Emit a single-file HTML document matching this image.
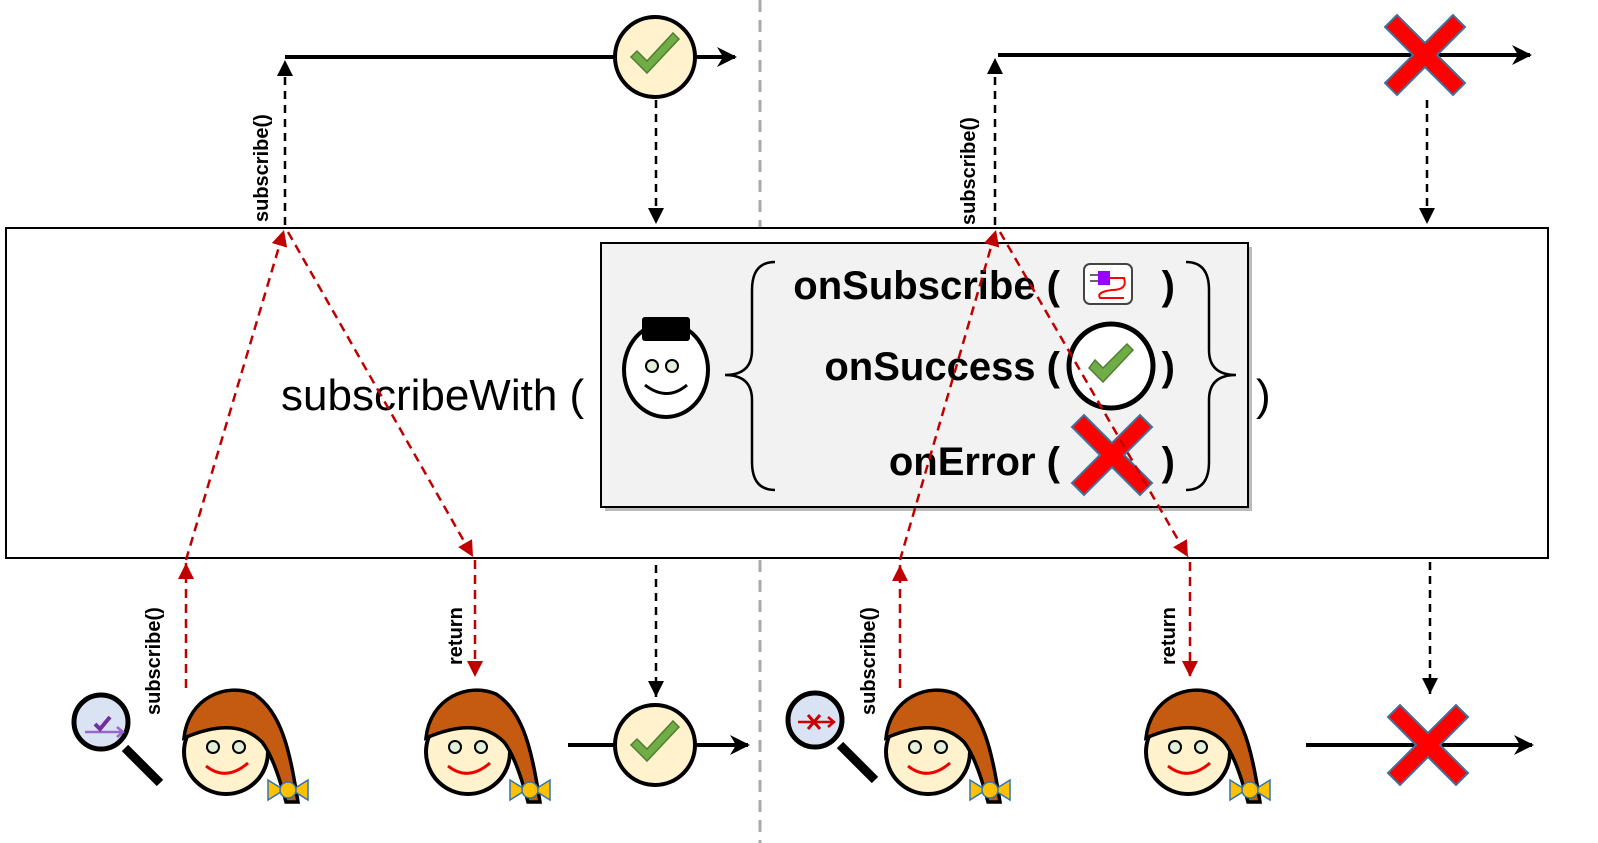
<!DOCTYPE html>
<html><head><meta charset="utf-8"><style>
html,body{margin:0;padding:0;background:#fff;}
svg{display:block;}
text{font-family:"Liberation Sans",sans-serif;}
</style></head><body>
<svg width="1598" height="843" viewBox="0 0 1598 843" xmlns="http://www.w3.org/2000/svg">
<defs>
<marker id="tb" viewBox="0 0 20 20" refX="18" refY="10" markerWidth="20" markerHeight="20" orient="auto" markerUnits="userSpaceOnUse"><path d="M0,0 L20,10 L0,20 L6,10Z" fill="#000"/></marker>
<marker id="db" viewBox="0 0 16 16" refX="16" refY="8" markerWidth="16" markerHeight="16" orient="auto" markerUnits="userSpaceOnUse"><path d="M0,0 L16,8 L0,16Z" fill="#000"/></marker>
<marker id="dr" viewBox="0 0 16 16" refX="16" refY="8" markerWidth="16" markerHeight="16" orient="auto" markerUnits="userSpaceOnUse"><path d="M0,0 L16,8 L0,16Z" fill="#c00000"/></marker>
<g id="girl">
<circle cx="0" cy="0" r="42" fill="#fff2cc" stroke="#000" stroke-width="4"/>
<path d="M-42,-14 C-38,-54 0,-70 28,-58 C56,-40 64,0 72,50 L60,50 C52,20 44,0 36,-10 C20,-26 -5,-30 -42,-14Z" fill="#c55a11" stroke="#000" stroke-width="3.5"/>
<circle cx="-13" cy="-5" r="6" fill="#e2efd9" stroke="#000" stroke-width="2"/>
<circle cx="13" cy="-5" r="6" fill="#e2efd9" stroke="#000" stroke-width="2"/>
<path d="M-20,14 Q0,30 22,11" fill="none" stroke="#e00" stroke-width="3"/>
<path d="M42,28 L58,38 L42,48Z M82,28 L66,38 L82,48Z" fill="#ffc000" stroke="#2e75b6" stroke-width="1.5"/>
<circle cx="62" cy="38" r="8" fill="#ffc000" stroke="#2e75b6" stroke-width="1.5"/>
</g>
<g id="chk">
<circle cx="0" cy="0" r="40" fill="#fff2cc" stroke="#000" stroke-width="4"/>
<path d="M-24,0 L-8,16 L24,-18 L18,-24 L-8,4 L-18,-6Z" fill="#70ad47" stroke="#507e32" stroke-width="1.5"/>
</g>
<g id="xx">
<path d="M-40,-28 L-28,-40 L0,-12 L28,-40 L40,-28 L12,0 L40,28 L28,40 L0,12 L-28,40 L-40,28 L-12,0Z" fill="#ff0000" stroke="#41719c" stroke-width="2"/>
</g>
</defs>

<line x1="760" y1="0" x2="760" y2="843" stroke="#aaa" stroke-width="3" stroke-dasharray="12,8"/>

<rect x="6" y="228" width="1542" height="330" fill="#fff" stroke="#000" stroke-width="2"/>
<rect x="605" y="247" width="647" height="264" fill="#bbb"/>
<rect x="601" y="243" width="647" height="264" fill="#f2f2f2" stroke="#000" stroke-width="2"/>

<text x="281" y="410" font-size="44">subscribeWith (</text>
<text x="1256" y="410" font-size="44">)</text>

<ellipse cx="666" cy="370" rx="42" ry="47" fill="#fff" stroke="#000" stroke-width="4"/>
<rect x="642" y="317" width="48" height="24" rx="3" fill="#000"/>
<circle cx="652" cy="366" r="6" fill="#e2efd9" stroke="#000" stroke-width="2"/>
<circle cx="672" cy="366" r="6" fill="#e2efd9" stroke="#000" stroke-width="2"/>
<path d="M645,385 Q667,402 687,385" fill="none" stroke="#000" stroke-width="3"/>

<path d="M775,262 Q752,262 752,290 L752,350 Q752,375 725,375 Q752,375 752,400 L752,462 Q752,490 775,490" fill="none" stroke="#000" stroke-width="2.5"/>
<path d="M1186,262 Q1209,262 1209,290 L1209,350 Q1209,375 1236,375 Q1209,375 1209,400 L1209,462 Q1209,490 1186,490" fill="none" stroke="#000" stroke-width="2.5"/>

<g font-weight="bold" font-size="40" text-anchor="end">
<text x="1060" y="299">onSubscribe (</text>
<text x="1060" y="380">onSuccess (</text>
<text x="1060" y="475">onError (</text>
<text x="1175" y="299">)</text>
<text x="1175" y="380">)</text>
<text x="1175" y="475">)</text>
</g>
<rect x="1084" y="264" width="48" height="40" rx="6" fill="#fff" stroke="#444" stroke-width="2"/>
<rect x="1098" y="271" width="12" height="14" fill="#9900ff"/>
<path d="M1090,275 L1098,275 M1090,281 L1098,281" stroke="#666" stroke-width="2"/>
<path d="M1110,278 L1124,278 Q1128,290 1112,290 Q1096,292 1100,298 L1124,298" fill="none" stroke="#f00" stroke-width="2"/>
<circle cx="1111" cy="366" r="42" fill="#fff" stroke="#000" stroke-width="5"/>
<path d="M1089,368 L1103,382 L1133,350 L1127,344 L1103,368 L1095,360Z" fill="#70ad47" stroke="#507e32" stroke-width="1.5"/>
<use href="#xx" x="1112" y="455"/>

<line x1="285" y1="57" x2="735" y2="57" stroke="#000" stroke-width="4" marker-end="url(#tb)"/>
<line x1="998" y1="55" x2="1530" y2="55" stroke="#000" stroke-width="4" marker-end="url(#tb)"/>
<use href="#chk" x="655" y="57"/>
<use href="#xx" x="1425" y="55"/>

<g stroke="#000" stroke-width="2.5" stroke-dasharray="8,6" fill="none">
<line x1="285" y1="225" x2="285" y2="60" marker-end="url(#db)"/>
<line x1="995" y1="225" x2="995" y2="58" marker-end="url(#db)"/>
<line x1="656" y1="100" x2="656" y2="224" marker-end="url(#db)"/>
<line x1="1427" y1="100" x2="1427" y2="224" marker-end="url(#db)"/>
<line x1="656" y1="565" x2="656" y2="697" marker-end="url(#db)"/>
<line x1="1430" y1="562" x2="1430" y2="694" marker-end="url(#db)"/>
</g>

<g stroke="#c00000" stroke-width="2.5" stroke-dasharray="9,6" fill="none">
<line x1="186" y1="560" x2="284" y2="230" marker-end="url(#dr)"/>
<line x1="186" y1="688" x2="186" y2="563" marker-end="url(#dr)"/>
<line x1="288" y1="232" x2="473" y2="557" marker-end="url(#dr)"/>
<line x1="475" y1="560" x2="475" y2="677" marker-end="url(#dr)"/>
<line x1="900" y1="560" x2="996" y2="230" marker-end="url(#dr)"/>
<line x1="900" y1="688" x2="900" y2="565" marker-end="url(#dr)"/>
<line x1="1000" y1="232" x2="1188" y2="557" marker-end="url(#dr)"/>
<line x1="1190" y1="562" x2="1190" y2="677" marker-end="url(#dr)"/>
</g>

<g font-weight="bold" font-size="20">
<text transform="translate(268,222) rotate(-90)">subscribe()</text>
<text transform="translate(975,225) rotate(-90)">subscribe()</text>
<text transform="translate(160,715) rotate(-90)">subscribe()</text>
<text transform="translate(875,715) rotate(-90)">subscribe()</text>
<text transform="translate(462,665) rotate(-90)">return</text>
<text transform="translate(1175,665) rotate(-90)">return</text>
</g>

<line x1="568" y1="745" x2="748" y2="745" stroke="#000" stroke-width="4" marker-end="url(#tb)"/>
<line x1="1306" y1="745" x2="1532" y2="745" stroke="#000" stroke-width="4" marker-end="url(#tb)"/>
<use href="#chk" x="655" y="745"/>
<use href="#xx" x="1428" y="745"/>

<use href="#girl" x="226" y="752"/>
<use href="#girl" x="468" y="752"/>
<use href="#girl" x="928" y="752"/>
<use href="#girl" x="1188" y="752"/>

<line x1="125" y1="748" x2="160" y2="783" stroke="#000" stroke-width="9"/>
<circle cx="101" cy="722" r="27" fill="#dae3f3" stroke="#000" stroke-width="5"/>
<path d="M85,732 L123,732" stroke="#9966cc" stroke-width="2.5"/>
<path d="M117,727 L123,732 L117,737" fill="none" stroke="#9966cc" stroke-width="2.5"/>
<path d="M95,724 L100,729 L110,717" fill="none" stroke="#7030a0" stroke-width="4"/>
<line x1="840" y1="745" x2="875" y2="780" stroke="#000" stroke-width="9"/>
<circle cx="815" cy="720" r="27" fill="#dae3f3" stroke="#000" stroke-width="5"/>
<path d="M798,722 L834,722" stroke="#c00" stroke-width="2.5"/>
<path d="M828,717 L834,722 L828,727" fill="none" stroke="#c00" stroke-width="2.5"/>
<path d="M808,715 L820,729 M820,715 L808,729" stroke="#c00" stroke-width="3"/>
</svg>
</body></html>
